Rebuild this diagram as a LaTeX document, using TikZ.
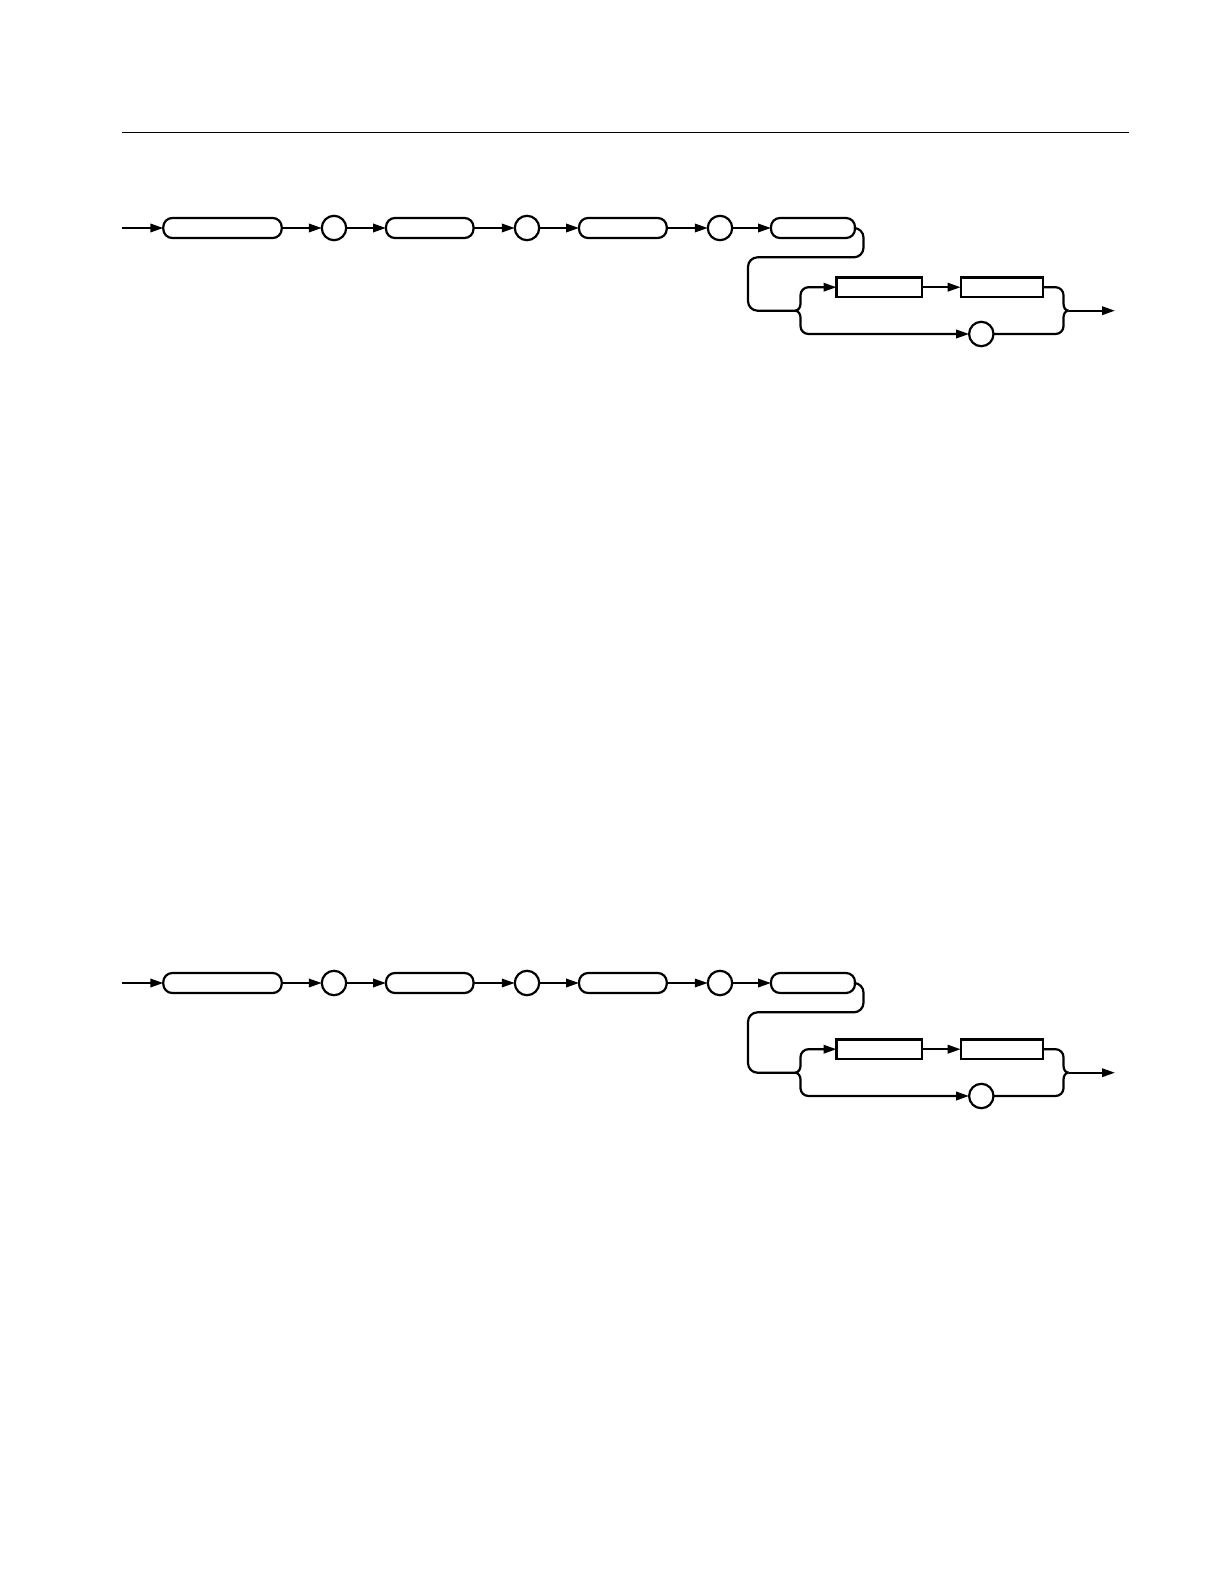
\documentclass[tikz,border=0pt]{standalone}
\usetikzlibrary{arrows.meta}
\begin{document}
\begin{tikzpicture}[x=0.5pt,y=-0.5pt,
  ln/.style={line width=1.1pt},
  arr/.style={ln,-{Triangle[length=6.5pt,width=4.2pt]}},
  pill/.style={draw,line width=1.1pt,rounded corners=4.5pt,minimum height=10pt,inner sep=0pt,outer sep=0pt},
  sq/.style={draw,line width=1.1pt,minimum height=9.75pt,inner sep=0pt,outer sep=0pt},
  circ/.style={draw,circle,line width=1.1pt,minimum size=12.2pt,inner sep=0pt,outer sep=0pt}]
\useasboundingbox (0,0) rectangle (1224,1584);
\coordinate (ruleL) at (122,132.7);
\coordinate (ruleR) at (1129,132.7);
\draw[line width=0.75pt] (ruleL) -- (ruleR);
\foreach \i/\ya/\yb in {1/228/310.7,2/983/1072.7}{
  \coordinate (s\i) at (122,\ya);
  \node[pill,minimum width=59.2pt] (pa\i) at (222.5,\ya) {};
  \node[circ] (ca\i) at (334,\ya) {};
  \node[pill,minimum width=43.75pt] (pb\i) at (429.75,\ya) {};
  \node[circ] (cb\i) at (527,\ya) {};
  \node[pill,minimum width=43.85pt] (pc\i) at (622.9,\ya) {};
  \node[circ] (cc\i) at (720,\ya) {};
  \node[pill,minimum width=42pt] (pd\i) at (813,\ya) {};
  \node[sq,minimum width=42.75pt] (ra\i) at (879.25,{\yb-23.5}) {};
  \node[sq,minimum width=41.15pt] (rb\i) at (1001.85,{\yb-23.5}) {};
  \node[circ] (cd\i) at (981.3,{\yb+23.3}) {};
  \coordinate (j\i) at (795,\yb);
  \coordinate (k\i) at (1068.5,\yb);
  \coordinate (e\i) at (1115,\yb);
  \draw[arr] (s\i) -- (pa\i);
  \draw[arr] (pa\i) -- (ca\i);
  \draw[arr] (ca\i) -- (pb\i);
  \draw[arr] (pb\i) -- (cb\i);
  \draw[arr] (cb\i) -- (pc\i);
  \draw[arr] (pc\i) -- (cc\i);
  \draw[arr] (cc\i) -- (pd\i);
  \draw[ln,rounded corners=4.8pt] (pd\i.east) -- (863.5,\ya) -- (863.5,{\ya+29.3}) -- (748,{\ya+29.3}) -- (748,\yb) -- (j\i);
  \draw[arr] (j\i) to[out=0,in=-90] (800.5,{\yb-7}) -- (800.5,{\yb-15.5}) to[out=90,in=180] (808.5,{\yb-23.5}) -- (ra\i);
  \draw[arr] (j\i) to[out=0,in=90] (800.5,{\yb+7}) -- (800.5,{\yb+15.5}) to[out=-90,in=180] (808.5,{\yb+23.3}) -- (cd\i);
  \draw[arr] (ra\i) -- (rb\i);
  \draw[ln] (rb\i) -- (1055.5,{\yb-23.5}) to[out=0,in=90] (1063.5,{\yb-15.5}) -- (1063.5,{\yb-7}) to[out=-90,in=180] (k\i);
  \draw[ln] (cd\i) -- (1055.5,{\yb+23.3}) to[out=0,in=-90] (1063.5,{\yb+15.5}) -- (1063.5,{\yb+7}) to[out=90,in=180] (k\i);
  \draw[arr] (k\i) -- (e\i);
}
\end{tikzpicture}
\end{document}
